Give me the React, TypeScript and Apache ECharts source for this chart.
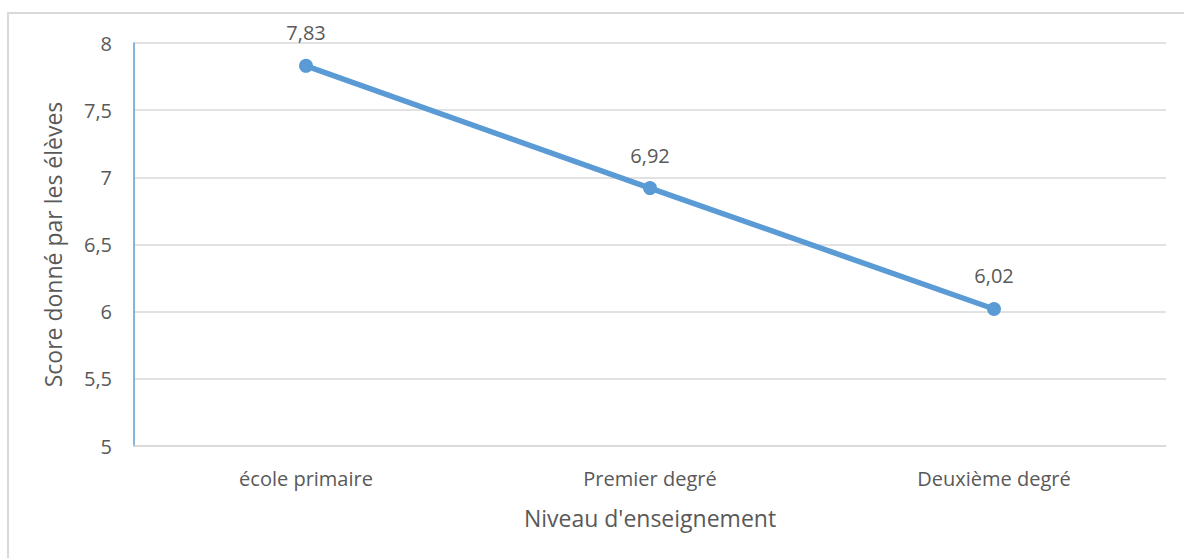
import React, { useEffect, useRef } from "react";
import * as echarts from "echarts";

const categories = ["école primaire", "Premier degré", "Deuxième degré"];
const scores = [7.83, 6.92, 6.02];
const yTicks = { min: 5, max: 8, interval: 0.5 };

const FONT = "'Open Sans', 'Liberation Sans', sans-serif";
const TEXT = "#595959";
const GRID = "#D9D9D9";
const BLUE = "#5B9BD5";

const fmt = (v: number) => String(v).replace(".", ",");

export default function App() {
  const ref = useRef<HTMLDivElement>(null);
  useEffect(() => {
    const chart = echarts.init(ref.current!, null, { renderer: "svg" });
    chart.setOption({
      animation: false,
      backgroundColor: "#fff",
      textStyle: { fontFamily: FONT },
      graphic: [
        {
          type: "rect",
          shape: { x: 8, y: 13, width: 1190, height: 560 },
          style: { fill: "none", stroke: GRID, lineWidth: 2 },
          silent: true,
        },
      ],
      grid: { left: 134, right: 18, top: 43, bottom: 112 },
      xAxis: {
        type: "category",
        data: categories,
        boundaryGap: true,
        name: "Niveau d'enseignement",
        nameLocation: "middle",
        nameGap: 60,
        nameTextStyle: { color: TEXT, fontSize: 23, fontFamily: FONT },
        axisLine: { lineStyle: { color: GRID, width: 1.5 } },
        axisTick: { show: false },
        axisLabel: { color: TEXT, fontSize: 20, margin: 22, fontFamily: FONT },
        splitLine: { show: false },
      },
      yAxis: {
        type: "value",
        min: yTicks.min,
        max: yTicks.max,
        interval: yTicks.interval,
        name: "Score donné par les élèves",
        nameLocation: "middle",
        nameGap: 70,
        nameTextStyle: { color: TEXT, fontSize: 23, fontFamily: FONT },
        axisLine: { show: true, lineStyle: { color: BLUE, width: 1.5 } },
        axisTick: { show: false },
        axisLabel: {
          color: TEXT,
          fontSize: 20,
          margin: 22,
          fontFamily: FONT,
          formatter: (v: number) => fmt(v),
        },
        splitLine: { lineStyle: { color: GRID, width: 1.5 } },
      },
      series: [
        {
          type: "line",
          data: scores,
          symbol: "circle",
          symbolSize: 14,
          lineStyle: { color: BLUE, width: 5.5 },
          itemStyle: { color: BLUE },
          label: {
            show: true,
            position: "top",
            distance: 16,
            color: TEXT,
            fontSize: 20,
            fontFamily: FONT,
            formatter: (p: any) => fmt(p.value),
          },
        },
      ],
    });
    return () => chart.dispose();
  }, []);
  return (
    <div
      ref={ref}
      style={{ position: "fixed", left: 0, top: 0, width: 1184, height: 558 }}
    />
  );
}
